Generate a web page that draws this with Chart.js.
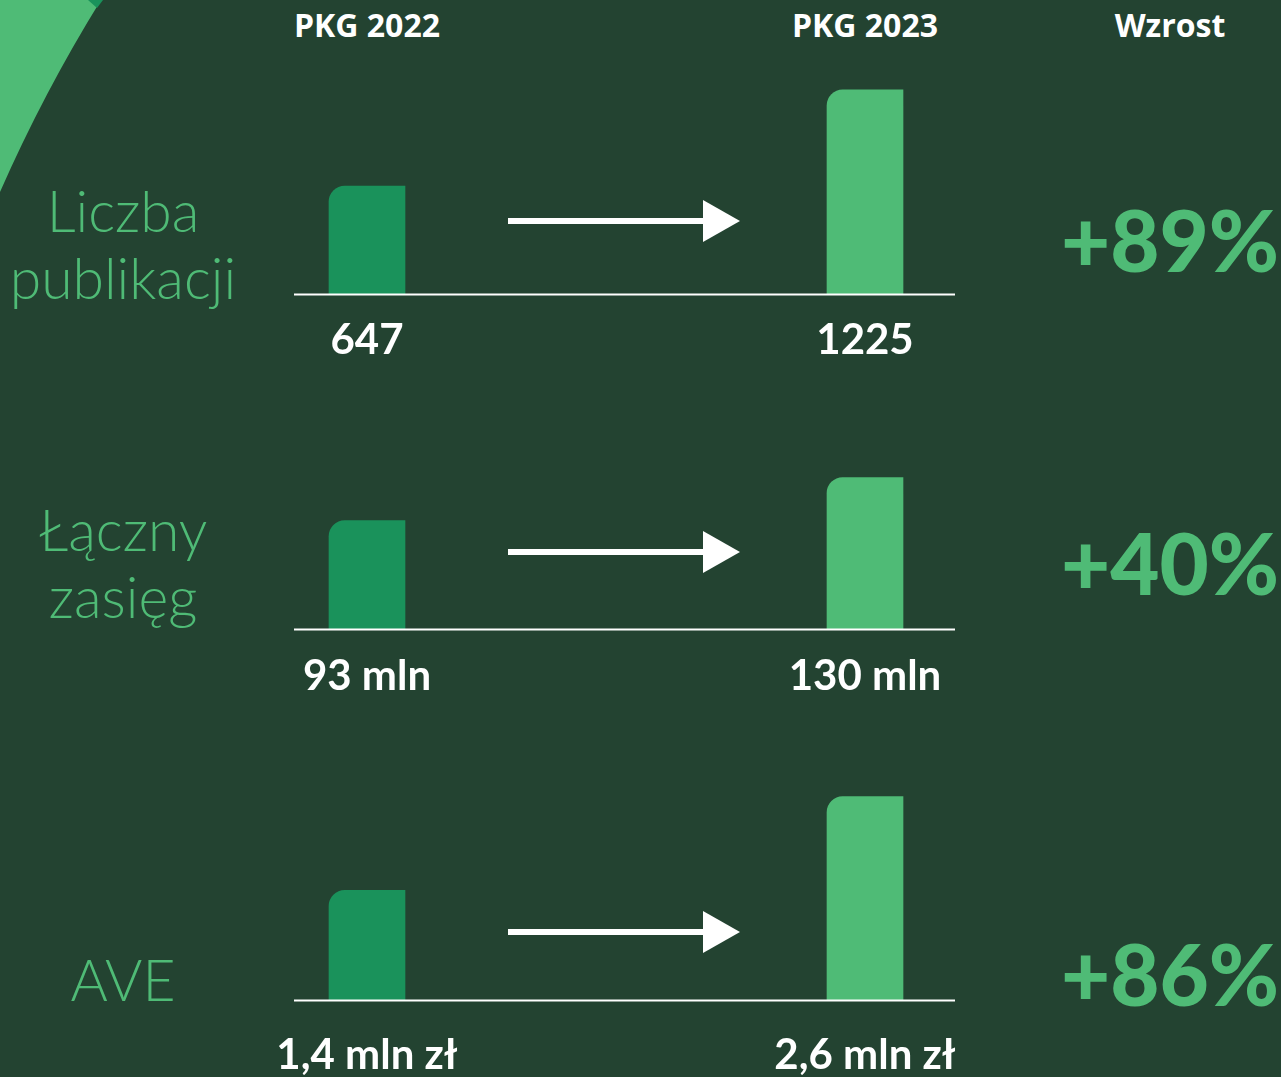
<!DOCTYPE html>
<html>
<head>
<meta charset="utf-8">
<script src="https://cdn.jsdelivr.net/npm/chart.js@4.4.0/dist/chart.umd.min.js"></script>
<style>
  html, body { margin:0; padding:0; }
  body { width:1281px; height:1077px; background:#234331; overflow:hidden; position:relative; }
  .abs { position:absolute; }
  canvas { position:absolute; left:0; }
  .hdr { position:absolute; top:9px; font-family:"Open Sans", sans-serif; font-weight:700; font-size:32px; line-height:1; color:#ffffff; transform:translateX(-50%); white-space:nowrap; }
  .metric { position:absolute; left:123px; transform:translateX(-50%); font-family:Lato, sans-serif; font-weight:300; font-size:57px; line-height:67px; color:#4FBB76; text-align:center; white-space:nowrap; }
  .growth { position:absolute; left:1170px; transform:translateX(-50%); font-family:Lato, sans-serif; font-weight:900; font-size:85px; line-height:1; color:#4FBB76; white-space:nowrap; }
</style>
</head>
<body>
<svg class="abs" style="left:0;top:0" width="120" height="200">
  <path d="M0,0 L101,0 Q44,92 0,192 Z" fill="#4FBB76"/>
  <path d="M88,0 L103,0 L97,8 Z" fill="#1A925B"/>
</svg>

<script>
// ---- data ----
const categories = ['PKG 2022', 'PKG 2023'];
const metricNames = ['Liczba\npublikacji', 'Łączny\nzasięg', 'AVE'];
const publikacje = [647, 1225];
const zasieg = [93, 130];        // mln
const ave = [1.4, 2.6];          // mln zł
const units = ['', ' mln', ' mln zł'];
const series = [publikacje, zasieg, ave];
const growthHeader = 'Wzrost';

// ---- layout ----
const rows = [
  { top: 60,  height: 320, areaTop: 79,  base: 294, arrowY: 221, labelY: 340, yMax: 1290, metricTop: 177, growthTop: 197 },
  { top: 440, height: 300, areaTop: 467, base: 629, arrowY: 552, labelY: 676, yMax: 139,  metricTop: 496, growthTop: 520 },
  { top: 760, height: 317, areaTop: 784, base: 1000, arrowY: 932, labelY: 1055, yMax: 2.76, metricTop: 946, growthTop: 931 }
];
const DARK = '#1A925B', LIGHT = '#4FBB76';

function fmt(v, unit) { return String(v).replace('.', ',') + unit; }

// headers
const hdrX = [367, 865];
categories.forEach((c, i) => {
  const d = document.createElement('div'); d.className = 'hdr'; d.style.left = hdrX[i] + 'px'; d.textContent = c; document.body.appendChild(d);
});
{ const d = document.createElement('div'); d.className = 'hdr'; d.style.left = '1170px'; d.textContent = growthHeader; document.body.appendChild(d); }

const decorPlugin = {
  id: 'decor',
  afterDatasetsDraw(chart, args, opts) {
    const ctx = chart.ctx;
    const meta = chart.getDatasetMeta(0);
    const b0 = meta.data[0], b1 = meta.data[1];
    const base = chart.chartArea.bottom;
    ctx.save();
    // baseline
    ctx.strokeStyle = '#ffffff'; ctx.lineWidth = 2;
    ctx.beginPath(); ctx.moveTo(b0.x - 73, base + 0.5); ctx.lineTo(b1.x + 90, base + 0.5); ctx.stroke();
    // arrow
    const ay = opts.arrowY;
    const x0 = b0.x + 141, xTip = b1.x - 125;
    ctx.fillStyle = '#ffffff';
    ctx.fillRect(x0, ay - 3, (xTip - 37) - x0 + 1, 6);
    ctx.beginPath(); ctx.moveTo(xTip - 37, ay - 21); ctx.lineTo(xTip, ay); ctx.lineTo(xTip - 37, ay + 21); ctx.closePath(); ctx.fill();
    // value labels
    ctx.font = '700 42px Lato';
    ctx.textAlign = 'center'; ctx.textBaseline = 'middle';
    const ds = chart.data.datasets[0];
    [b0, b1].forEach((b, i) => {
      ctx.fillText(fmt(ds.data[i], opts.unit), b.x, opts.labelY);
    });
    ctx.restore();
  }
};

rows.forEach((r, i) => {
  const cv = document.createElement('canvas');
  cv.width = 1281; cv.height = r.height; cv.style.top = r.top + 'px';
  document.body.appendChild(cv);
  new Chart(cv, {
    type: 'bar',
    data: {
      labels: categories,
      datasets: [{
        data: series[i],
        backgroundColor: [DARK, LIGHT],
        barThickness: 76,
        borderRadius: { topLeft: 16, topRight: 0, bottomLeft: 0, bottomRight: 0 },
        borderSkipped: 'bottom'
      }]
    },
    options: {
      responsive: false,
      animation: false,
      layout: { padding: { left: 118, right: 1281 - 1114, top: r.areaTop - r.top, bottom: r.top + r.height - r.base } },
      plugins: {
        legend: { display: false }, tooltip: { enabled: false },
        decor: { arrowY: r.arrowY - r.top, labelY: r.labelY - r.top, unit: units[i] }
      },
      scales: {
        x: { display: false, offset: true },
        y: { display: false, min: 0, max: r.yMax }
      }
    },
    plugins: [decorPlugin]
  });

  const m = document.createElement('div'); m.className = 'metric'; m.style.top = r.metricTop + 'px';
  m.innerHTML = metricNames[i].split('\n').join('<br>'); document.body.appendChild(m);

  const g = document.createElement('div'); g.className = 'growth'; g.style.top = r.growthTop + 'px';
  const pct = Math.round((series[i][1] / series[i][0] - 1) * 100);
  g.textContent = '+' + pct + '%'; document.body.appendChild(g);
});
</script>
</body>
</html>
